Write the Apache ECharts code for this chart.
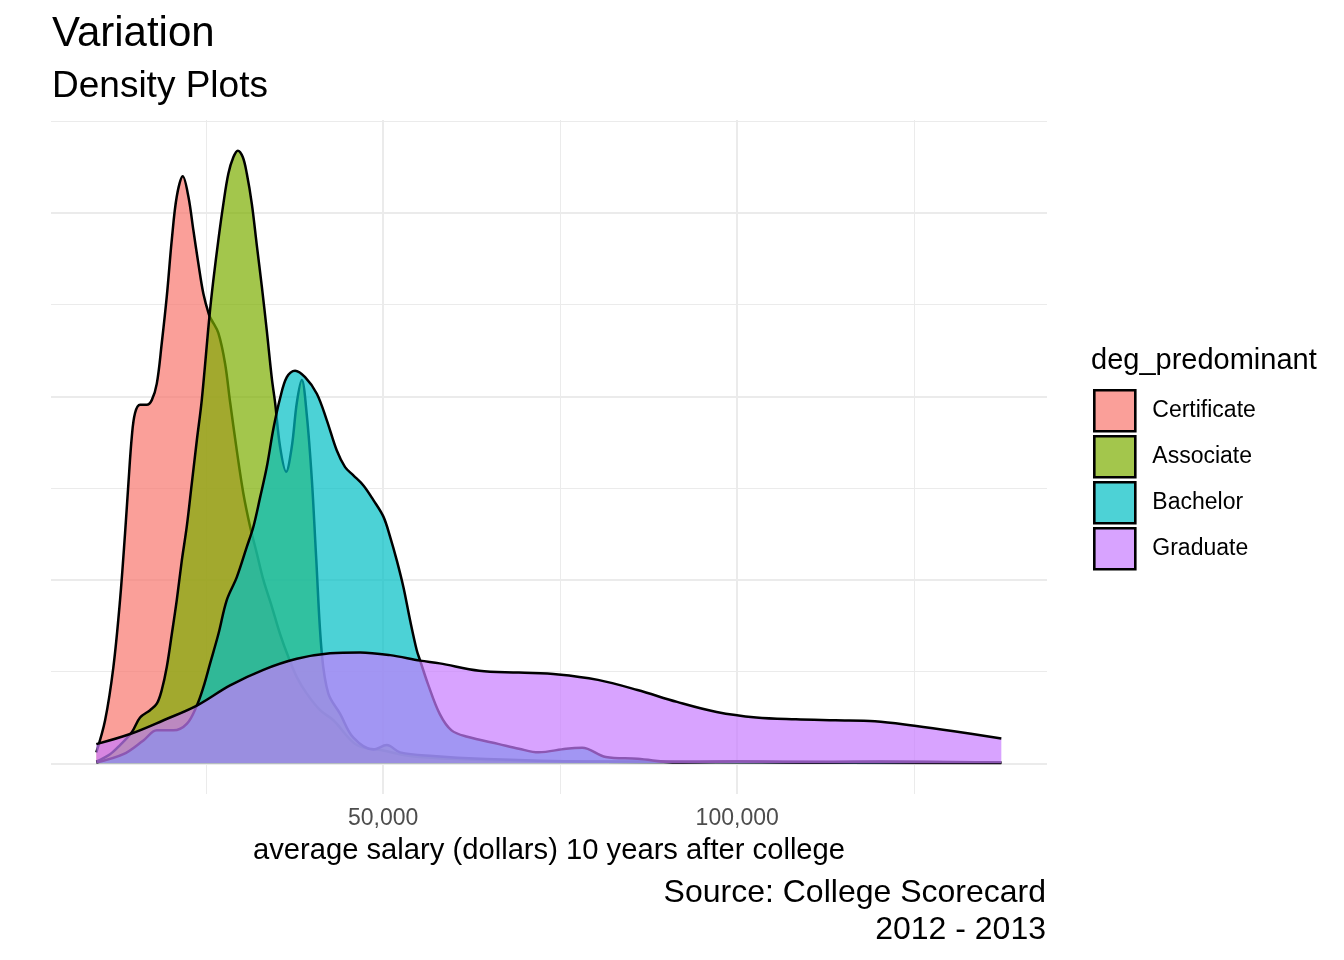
<!DOCTYPE html>
<html>
<head>
<meta charset="utf-8">
<script src="https://cdn.jsdelivr.net/npm/echarts@6/dist/echarts.min.js"></script>
<style>
    html, body {margin: 0; padding: 0; background: #fff;}
    #chart {width: 1344px; height: 960px;}
</style>
</head>
<body>
<div id="chart"></div>
<script>
// density values are in units of 1e-5 (y axis labels are hidden in the original)
const groups = ['Certificate', 'Associate', 'Bachelor', 'Graduate'];
const fills = ['#F8766D', '#7CAE00', '#00BFC4', '#C77CFF'];
const legendFills = ['#FA9F99', '#A3C64C', '#4DD2D6', '#D8A3FF'];

const certSalary = [9500, 10740, 11910, 12850, 13560, 14030, 14510, 14970, 15680, 16620, 17330, 18040, 18740, 19450, 20160, 20860, 21710, 22500, 23210, 23910, 24620, 25420, 25810, 26740, 27680, 28390, 29340, 30270, 31220, 32160, 33090, 34280, 35450, 36620, 37810, 39220, 41100, 42980, 46290, 50000, 53810, 59460, 66530, 75000, 100000, 137300];
const certDensity = [0.12, 0.47, 1.05, 1.78, 2.51, 3.05, 3.56, 3.82, 3.91, 3.91, 3.96, 4.14, 4.58, 5.09, 5.71, 6.18, 6.40, 6.18, 5.81, 5.45, 5.12, 4.89, 4.83, 4.69, 4.36, 3.94, 3.41, 2.94, 2.58, 2.29, 2.0, 1.71, 1.41, 1.16, 0.94, 0.76, 0.58, 0.47, 0.20, 0.14, 0.08, 0.05, 0.03, 0.02, 0.01, 0.005];

const assocSalary = [9500, 11440, 12850, 14510, 15680, 17090, 18040, 18740, 19450, 20160, 20860, 21570, 22270, 22980, 23690, 24390, 25470, 26030, 26740, 27440, 28150, 28860, 29480, 30180, 30750, 31460, 32160, 32870, 33570, 34280, 34750, 35450, 36300, 37100, 37810, 38520, 39220, 39930, 40540, 41340, 42270, 43930, 45800, 48630, 50520, 52400, 57060, 63700, 80000, 100000, 137300];
const assocDensity = [0.02, 0.1, 0.2, 0.34, 0.5, 0.58, 0.65, 0.8, 1.05, 1.41, 1.78, 2.21, 2.58, 3.05, 3.52, 3.96, 4.87, 5.27, 5.71, 6.10, 6.43, 6.61, 6.68, 6.61, 6.43, 6.10, 5.65, 5.2, 4.72, 4.2, 3.93, 3.45, 3.18, 3.45, 3.93, 4.18, 3.80, 3.1, 2.25, 1.2, 0.76, 0.54, 0.28, 0.15, 0.2, 0.12, 0.08, 0.05, 0.02, 0.02, 0.01];

const bachSalary = [9500, 13320, 16150, 18040, 20380, 22270, 23690, 24620, 25570, 26740, 27920, 29340, 30750, 31680, 32630, 33570, 34510, 35450, 36400, 37570, 38980, 40640, 42050, 43460, 44630, 45800, 47220, 48630, 50040, 50990, 51940, 52870, 53810, 54760, 55230, 56310, 57990, 59660, 61890, 66370, 69170, 71950, 75850, 78110, 81450, 85920, 91530, 100000, 110000, 120000, 137300];
const bachDensity = [0.01, 0.1, 0.25, 0.36, 0.36, 0.43, 0.63, 0.83, 1.09, 1.41, 1.78, 2.03, 2.36, 2.58, 2.9, 3.23, 3.65, 3.98, 4.21, 4.28, 4.21, 4.03, 3.74, 3.41, 3.23, 3.14, 3.03, 2.87, 2.69, 2.47, 2.21, 1.92, 1.56, 1.23, 1.12, 0.87, 0.54, 0.36, 0.29, 0.21, 0.16, 0.12, 0.16, 0.17, 0.07, 0.05, 0.01, 0.02, 0.01, 0.02, 0.01];

const gradSalary = [9500, 14270, 19000, 23690, 28390, 33090, 37810, 42510, 46750, 50990, 55230, 57990, 63570, 69170, 74750, 80340, 85920, 91510, 97100, 102680, 108280, 113860, 119450, 125030, 130620, 137300];
const gradDensity = [0.21, 0.32, 0.47, 0.63, 0.85, 1.02, 1.14, 1.2, 1.21, 1.18, 1.12, 1.09, 1.01, 0.99, 0.97, 0.91, 0.8, 0.67, 0.56, 0.5, 0.48, 0.47, 0.46, 0.41, 0.35, 0.27];

const majorX = [50000, 100000];
const minorX = [25000, 75000, 125000];
const majorY = [0, 2, 4, 6];
const minorY = [1, 3, 5, 7];

const salaries = [certSalary, assocSalary, bachSalary, gradSalary];
const densities = [certDensity, assocDensity, bachDensity, gradDensity];

const FONT = '"Liberation Sans", Arial, sans-serif';

function zip(xs, ys) {
    return xs.map(function (x, i) { return [x, ys[i]]; });
}

let myChart = echarts.init(document.getElementById('chart'), null, {renderer: 'canvas'});

const gridLine = function (w) {
    return {show: true, lineStyle: {color: '#EBEBEB', width: w}};
};

myChart.setOption({
    animation: false,
    backgroundColor: '#fff',
    grid: {left: 51, right: 297, top: 120, bottom: 166, containLabel: false},
    xAxis: [{
        type: 'value', min: 3100, max: 143750,
        axisLine: {show: false},
        axisTick: {show: false, customValues: majorX},
        axisLabel: {
            customValues: majorX, margin: 13, color: '#4D4D4D', fontSize: 23, fontFamily: FONT,
            formatter: function (v) { return v.toLocaleString('en-US'); }
        },
        splitLine: gridLine(2)
    }, {
        type: 'value', min: 3100, max: 143750,
        axisLine: {show: false},
        axisTick: {show: false, customValues: minorX},
        axisLabel: {show: false},
        splitLine: gridLine(1)
    }],
    yAxis: [{
        type: 'value', min: -0.334, max: 7.014,
        axisLine: {show: false},
        axisTick: {show: false, customValues: majorY},
        axisLabel: {show: false},
        splitLine: gridLine(2)
    }, {
        type: 'value', min: -0.334, max: 7.014,
        axisLine: {show: false},
        axisTick: {show: false, customValues: minorY},
        axisLabel: {show: false},
        splitLine: gridLine(1)
    }],
    legend: {
        orient: 'vertical', left: 1093, top: 389, padding: 0,
        icon: 'rect', itemWidth: 41, itemHeight: 41, itemGap: 2.4,
        selectedMode: false,
        itemStyle: {borderColor: '#000', borderWidth: 2.6},
        textStyle: {fontSize: 23, fontFamily: FONT, color: '#000', padding: [0, 0, 0, 12]},
        data: groups.map(function (g, i) {
            return {name: g, itemStyle: {color: legendFills[i]}};
        })
    },
    graphic: [
        {type: 'text', x: 52, y: 34, style: {text: 'Variation', font: '42px ' + FONT, fill: '#000', align: 'left', verticalAlign: 'middle'}},
        {type: 'text', x: 52, y: 87, style: {text: 'Density Plots', font: '37px ' + FONT, fill: '#000', align: 'left', verticalAlign: 'middle'}},
        {type: 'text', x: 549, y: 851, style: {text: 'average salary (dollars) 10 years after college', font: '29.2px ' + FONT, fill: '#000', align: 'center', verticalAlign: 'middle'}},
        {type: 'text', x: 1046, y: 893, style: {text: 'Source: College Scorecard', font: '32px ' + FONT, fill: '#000', align: 'right', verticalAlign: 'middle'}},
        {type: 'text', x: 1046, y: 930, style: {text: '2012 - 2013', font: '32px ' + FONT, fill: '#000', align: 'right', verticalAlign: 'middle'}},
        {type: 'text', x: 1091, y: 361, style: {text: 'deg_predominant', font: '29px ' + FONT, fill: '#000', align: 'left', verticalAlign: 'middle'}}
    ],
    series: groups.map(function (g, i) {
        return {
            name: g,
            type: 'line',
            z: 2 + i,
            xAxisIndex: 0, yAxisIndex: 0,
            smooth: 0.35,
            symbol: 'none',
            data: zip(salaries[i], densities[i]),
            itemStyle: {color: fills[i]},
            lineStyle: {color: '#000', width: 2.5},
            areaStyle: {color: fills[i], opacity: 0.7},
            emphasis: {disabled: true}
        };
    })
});
</script>
</body>
</html>
